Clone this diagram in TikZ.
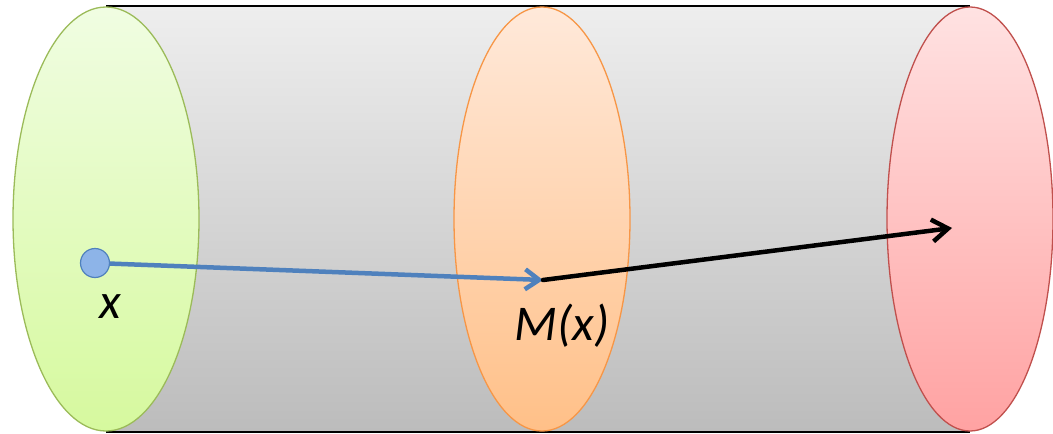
\documentclass[tikz,border=0pt]{standalone}
\usepackage{fontspec}
\setmainfont{Carlito}
\usetikzlibrary{positioning,shapes.geometric,arrows.meta,backgrounds}
\definecolor{tubeTop}{HTML}{EEEEEE}
\definecolor{tubeBot}{HTML}{BCBCBC}
\definecolor{inLine}{HTML}{9BBB59}
\definecolor{inTop}{HTML}{F0FDE2}
\definecolor{inBot}{HTML}{D6F99E}
\definecolor{midLine}{HTML}{F79646}
\definecolor{midTop}{HTML}{FFE9DA}
\definecolor{midBot}{HTML}{FFC088}
\definecolor{outLine}{HTML}{C0504D}
\definecolor{outTop}{HTML}{FFE2E2}
\definecolor{outBot}{HTML}{FFA2A2}
\definecolor{mapBlue}{HTML}{4F81BD}
\definecolor{dotFill}{HTML}{8DB4E8}
\begin{document}
\begin{tikzpicture}[x=1pt,y=-1pt,
  disc/.style={draw,ellipse,line width=1.3pt,inner sep=0pt,minimum height=424pt},
  lbl/.style={font=\fontsize{50}{56}\selectfont\itshape}]
\useasboundingbox (0,0) rectangle (1053,434);
\node[disc,draw=inLine,top color=inTop,bottom color=inBot,minimum width=186pt] (inset) at (106,219) {};
\node[disc,draw=midLine,top color=midTop,bottom color=midBot,minimum width=176pt] (midset) at (542,219) {};
\node[disc,draw=outLine,top color=outTop,bottom color=outBot,minimum width=166pt] (outset) at (970,219) {};
\begin{scope}[on background layer]
\shade[top color=tubeTop,bottom color=tubeBot] (inset.north) rectangle (outset.south);
\draw[line width=2pt] (inset.north)--(outset.north);
\draw[line width=2pt] (inset.south)--(outset.south);
\end{scope}
\node[circle,draw=mapBlue,fill=dotFill,line width=1.2pt,minimum size=29pt,inner sep=0pt] (pt) at (95,263) {};
\coordinate (img) at (543,280);
\coordinate (far) at (952,228);
\node[lbl] (xlab) at (110,307) {x};
\node[lbl] (mlab) at (562,326) {M(x)};
\draw[-{Straight Barb[length=14pt,width=20pt]},line width=4.5pt,mapBlue] (pt)--(img);
\draw[-{Straight Barb[length=16pt,width=22pt]},line width=4.5pt,line cap=round] (img)--(far);
\end{tikzpicture}
\end{document}
